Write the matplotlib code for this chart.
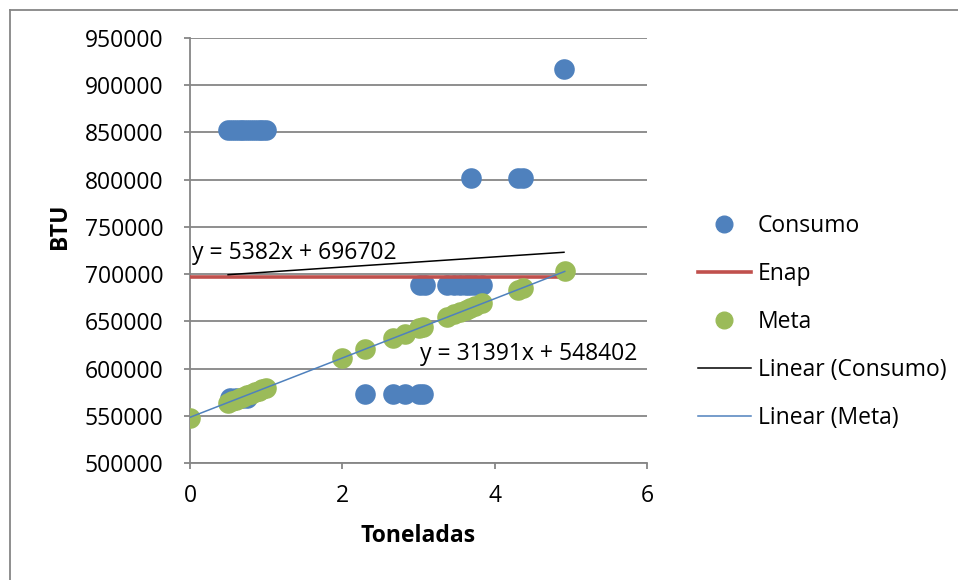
import matplotlib.pyplot as plt
from matplotlib.lines import Line2D

plt.rcParams['font.family'] = ['Open Sans', 'DejaVu Sans']

# Consumo (toneladas, BTU)
consumo_x = [0.50, 0.55, 0.60, 0.65, 0.70, 0.75, 0.80, 0.85, 0.90, 0.95, 1.00,
             4.91, 3.69, 4.31, 4.37,
             3.02, 3.08, 3.38, 3.47, 3.55, 3.62, 3.68, 3.74, 3.84,
             2.30, 2.67, 2.82, 3.00, 3.06,
             0.52, 0.60, 0.68, 0.75]
consumo_y = [852500, 852500, 852500, 852500, 852500, 852500, 852500, 852500, 852500, 852500, 852500,
             917200, 802000, 802000, 802000,
             688000, 688000, 688000, 688000, 688000, 688000, 688000, 688000, 688000,
             573500, 573500, 573500, 573500, 573500,
             569000, 569000, 569000, 569000]

# Enap (referencia)
enap_x = [0.0, 4.92]
enap_y = [697000, 697000]

# Meta
meta_x = [0.00, 0.50, 0.55, 0.60, 0.65, 0.70, 0.75, 0.80, 0.85, 0.90, 0.95, 1.00,
          2.00, 2.30, 2.67, 2.82, 3.00, 3.06, 3.38, 3.47, 3.55, 3.62, 3.68, 3.74, 3.84,
          4.31, 4.37, 4.92]
meta_y = [548000, 564000, 565700, 567200, 568800, 570400, 571900, 573500, 575100, 576600, 578200, 579800,
          611200, 620600, 632200, 636900, 642600, 644400, 654500, 657300, 659800, 662000, 663900, 665800, 669000,
          683700, 685600, 702800]

# linhas de tendencia (equacoes mostradas no grafico)
consumo_slope, consumo_intercept = 5382, 696702
meta_slope, meta_intercept = 31391, 548402

blue = '#4F81BD'
red = '#C0504D'
green = '#9BBB59'
grid_gray = '#868686'
fs = 16.5

fig = plt.figure(figsize=(9.58, 5.8), dpi=100)
ax = fig.add_axes([190 / 958, 1 - 463 / 580, 457 / 958, 425 / 580])

ax.scatter(consumo_x, consumo_y, s=220, color=blue, linewidths=0, zorder=3)
ax.plot(enap_x, enap_y, color=red, linewidth=2.6, zorder=4)
ax.scatter(meta_x, meta_y, s=220, color=green, linewidths=0, zorder=5)

cx0, cx1 = min(consumo_x), max(consumo_x)
ax.plot([cx0, cx1], [consumo_slope * cx0 + consumo_intercept, consumo_slope * cx1 + consumo_intercept],
        color='black', linewidth=1.1, zorder=6)
mx0, mx1 = min(meta_x), max(meta_x)
ax.plot([mx0, mx1], [meta_slope * mx0 + meta_intercept, meta_slope * mx1 + meta_intercept],
        color=blue, linewidth=1.1, zorder=6)

ax.text(0.03, 722000, f'y = {consumo_slope}x + {consumo_intercept}', fontsize=fs, va='center', zorder=7)
ax.text(3.02, 615000, f'y = {meta_slope}x + {meta_intercept}', fontsize=fs, va='center', zorder=7)

ax.set_xlim(0, 6)
ax.set_ylim(500000, 950000)
ax.set_xticks([0, 2, 4, 6])
ax.set_yticks(range(500000, 950001, 50000))
ax.set_yticklabels([str(v) for v in range(500000, 950001, 50000)])
ax.yaxis.grid(True, color=grid_gray, linewidth=1.3)
ax.set_axisbelow(True)
for s in ['top', 'right']:
    ax.spines[s].set_visible(False)
for s in ['left', 'bottom']:
    ax.spines[s].set_color(grid_gray)
    ax.spines[s].set_linewidth(1.3)
ax.tick_params(axis='both', colors=grid_gray, labelcolor='black', labelsize=fs,
               length=4, width=1.3, direction='out')
ax.tick_params(axis='y', pad=15)
ax.tick_params(axis='x', pad=11)

fig.text(60 / 958, 1 - 226 / 580, 'BTU', rotation=90, fontsize=fs, fontweight='bold',
         ha='center', va='center')
fig.text(418 / 958, 1 - 536 / 580, 'Toneladas', fontsize=fs, fontweight='bold',
         ha='center', va='center')

handles = [
    Line2D([], [], linestyle='none', marker='o', markersize=12, color=blue),
    Line2D([], [], color=red, linewidth=2.6),
    Line2D([], [], linestyle='none', marker='o', markersize=12, color=green),
    Line2D([], [], color='black', linewidth=1.1),
    Line2D([], [], color=blue, linewidth=1.1),
]
labels = ['Consumo', 'Enap', 'Meta', 'Linear (Consumo)', 'Linear (Meta)']
fig.legend(handles, labels, loc='upper left', bbox_to_anchor=(698 / 958, 1 - 214 / 580),
           frameon=False, fontsize=fs, handlelength=2.3, handletextpad=0.3,
           labelspacing=1.05, borderaxespad=0, borderpad=0)

# borda do grafico
fig.add_artist(Line2D([9.5 / 958, 9.5 / 958], [0, 1 - 9.5 / 580], color=grid_gray, linewidth=1.3))
fig.add_artist(Line2D([9.5 / 958, 1], [1 - 9.5 / 580, 1 - 9.5 / 580], color=grid_gray, linewidth=1.3))

fig.savefig('out.png', dpi=100, facecolor='white')
